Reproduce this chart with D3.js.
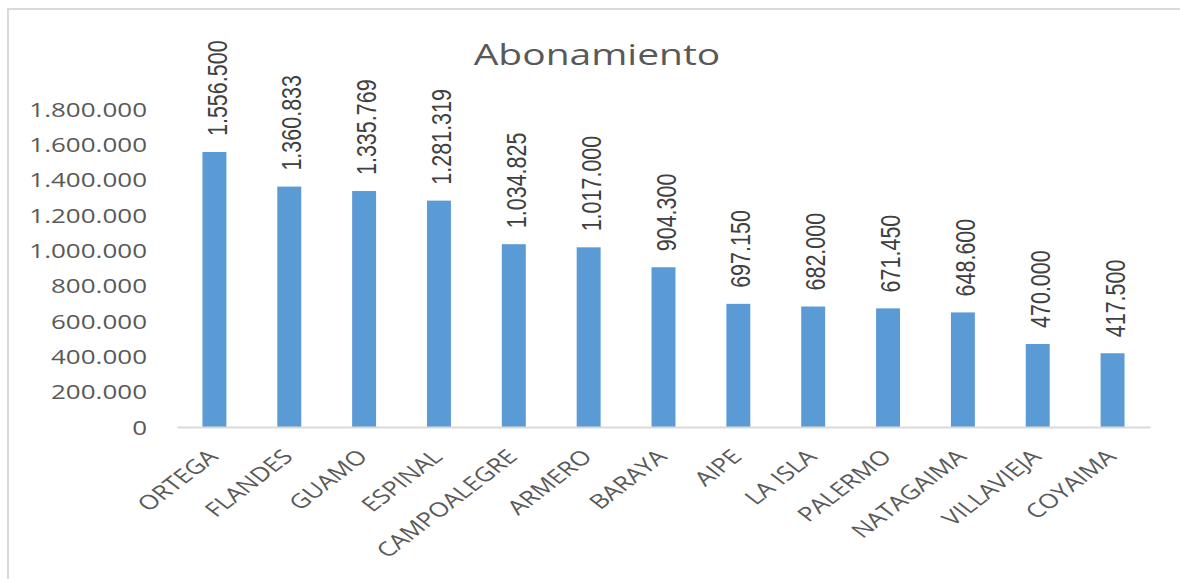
<!DOCTYPE html>
<html>
<head>
<meta charset="utf-8">
<script src="https://cdn.jsdelivr.net/npm/d3@7"></script>
<style>
  body { margin: 0; background: #fff; }
  svg { display: block; }
</style>
</head>
<body>
<div id="chart"></div>
<script>
// datos del gráfico
const municipios = ["ORTEGA", "FLANDES", "GUAMO", "ESPINAL", "CAMPOALEGRE", "ARMERO", "BARAYA",
                    "AIPE", "LA ISLA", "PALERMO", "NATAGAIMA", "VILLAVIEJA", "COYAIMA"];
const abonamiento = [1556500, 1360833, 1335769, 1281319, 1034825, 1017000, 904300,
                     697150, 682000, 671450, 648600, 470000, 417500];
const yTicks = [0, 200000, 400000, 600000, 800000, 1000000, 1200000, 1400000, 1600000, 1800000];
const titulo = "Abonamiento";

const W = 1180, H = 579;
const SX = 1.3; // la imagen original está estirada en horizontal
const TXT = "#595959", GRIS = "#d9d9d9", AZUL = "#5b9bd5";

const loc = d3.formatLocale({ decimal: ",", thousands: ".", grouping: [3], currency: ["$", ""] });
const fmt = loc.format(",d");

const svg = d3.select("#chart").append("svg")
    .attr("width", W).attr("height", H);

// marco del gráfico (solo se ve arriba y a la izquierda)
svg.append("rect")
    .attr("x", 8).attr("y", 9)
    .attr("width", W + 20).attr("height", H + 20)
    .attr("fill", "none").attr("stroke", GRIS).attr("stroke-width", 2);

const x = d3.scaleBand()
    .domain(municipios)
    .range([177, 1150])
    .paddingInner(0.68)
    .paddingOuter(0.34);

const y = d3.scaleLinear()
    .domain([0, 1800000])
    .range([427, 109]);

// título
svg.append("text")
    .attr("transform", `translate(597,65) scale(${SX},1)`)
    .attr("text-anchor", "middle")
    .style("font-family", "'Open Sans', sans-serif")
    .style("font-size", "30px")
    .style("fill", TXT)
    .text(titulo);

// eje Y
const gy = svg.append("g")
    .attr("transform", `translate(147,0)`)
    .call(d3.axisLeft(y).tickValues(yTicks).tickSize(0).tickPadding(0).tickFormat(fmt));
gy.select(".domain").remove();
gy.selectAll("text")
    .attr("x", null).attr("dy", "0.35em")
    .attr("transform", `scale(${SX},1)`)
    .style("font-family", "'Open Sans', sans-serif")
    .style("font-size", "20px")
    .style("fill", TXT);

// barras
const datos = municipios.map((m, i) => ({ m, v: abonamiento[i] }));
svg.selectAll(".bar")
    .data(datos)
    .enter().append("rect")
    .attr("class", "bar")
    .attr("x", d => x(d.m))
    .attr("y", d => y(d.v))
    .attr("width", x.bandwidth())
    .attr("height", d => y(0) - y(d.v))
    .attr("fill", AZUL);

// línea del eje X
const gx = svg.append("g")
    .attr("transform", `translate(0,${y(0)})`)
    .call(d3.axisBottom(x).tickSize(0).tickSizeOuter(0).tickFormat(""));
gx.select(".domain").attr("stroke", GRIS).attr("stroke-width", 2);

// etiquetas de categorías giradas
svg.selectAll(".cat")
    .data(datos)
    .enter().append("text")
    .attr("class", "cat")
    .attr("transform", d => `translate(${x(d.m) + x.bandwidth() / 2 + 5},${y(0) + 31}) scale(${SX},1) rotate(-45)`)
    .attr("text-anchor", "end")
    .style("font-family", "'Open Sans', sans-serif")
    .style("font-size", "20px")
    .style("fill", TXT)
    .text(d => d.m);

// etiquetas de valor verticales
svg.selectAll(".val")
    .data(datos)
    .enter().append("text")
    .attr("class", "val")
    .attr("transform", d => `translate(${x(d.m) + x.bandwidth() / 2 + 1.5},${y(d.v) - 16}) scale(${SX},1) rotate(-90)`)
    .attr("dy", "0.38em")
    .attr("text-anchor", "start")
    .style("font-family", "'Liberation Sans', Arial, sans-serif")
    .style("font-size", "21.5px")
    .style("fill", "#404040")
    .text(d => fmt(d.v));
</script>
</body>
</html>
